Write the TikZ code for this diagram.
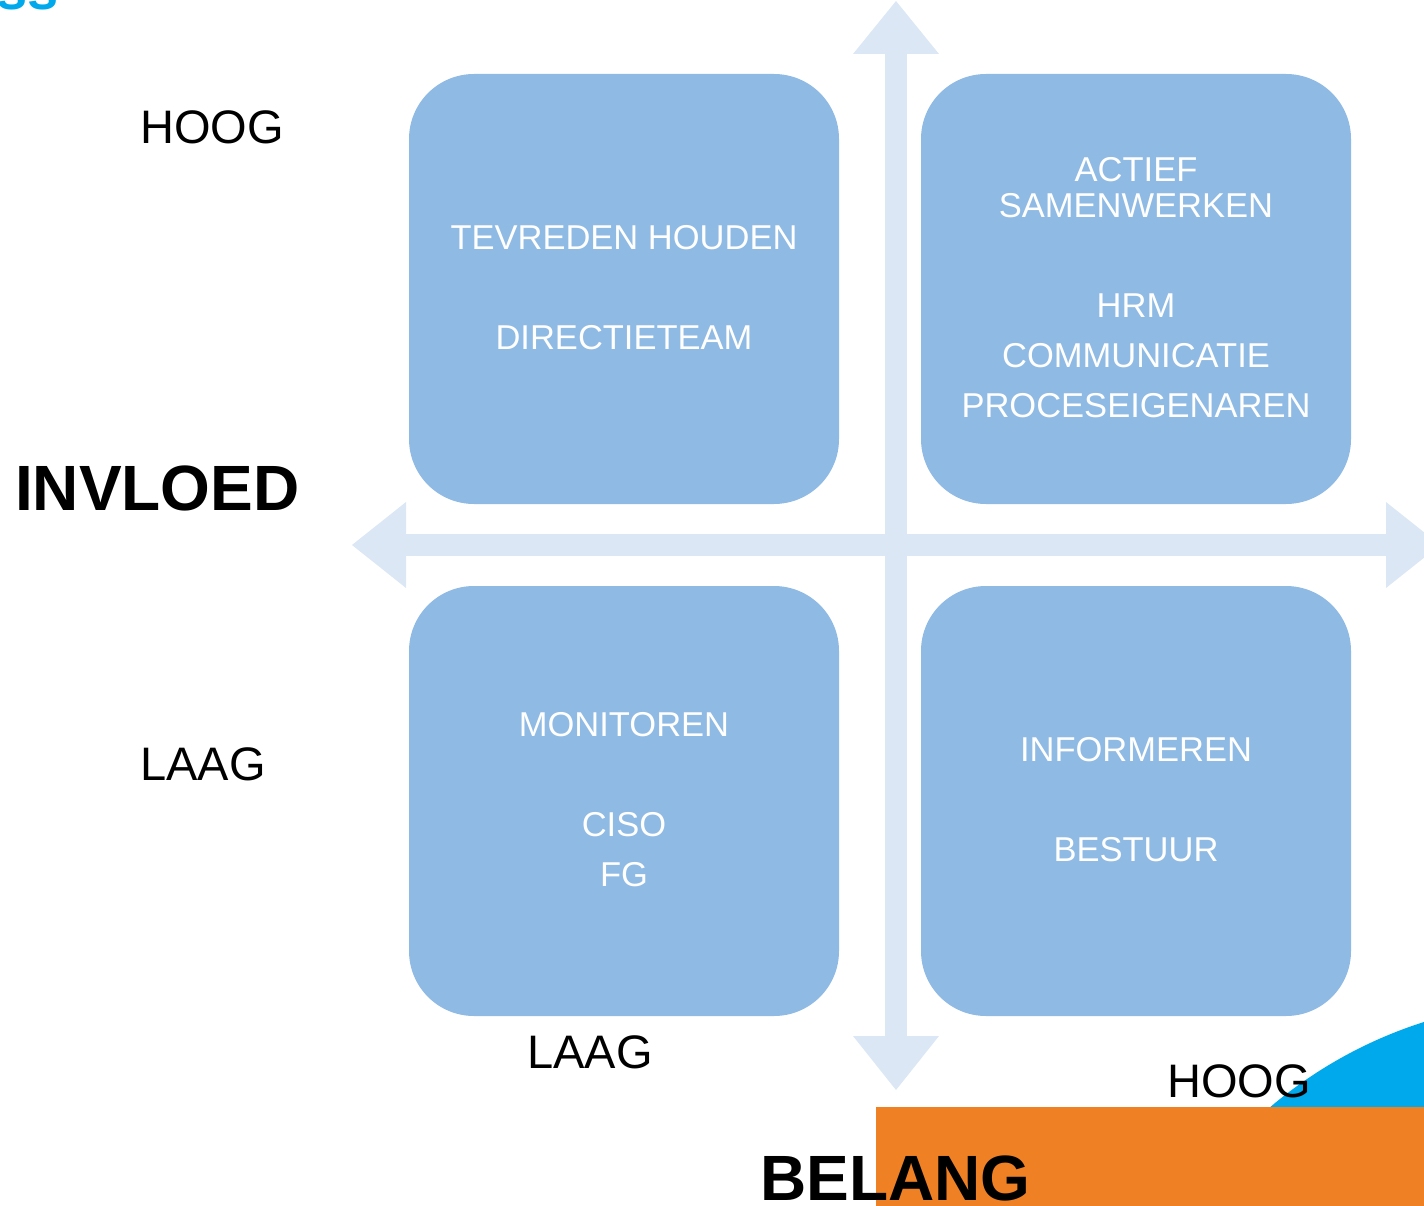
\documentclass[tikz,border=0pt]{standalone}
\usepackage{fontspec}
\setmainfont{Liberation Sans}
\definecolor{boxblue}{RGB}{143,186,228}
\definecolor{axisblue}{RGB}{219,231,244}
\definecolor{accentorange}{RGB}{240,128,36}
\definecolor{accentcyan}{RGB}{0,169,236}
\tikzset{
  quadrant/.style={fill=boxblue, draw=none, rounded corners=65pt,
    minimum width=430pt, minimum height=430pt, inner sep=0pt},
  qtext/.style={text=white, inner sep=0pt, font=\fontsize{34.5}{40}\selectfont},
  axislabel/.style={text=black, inner sep=0pt, font=\fontsize{47}{54}\selectfont},
  axistitle/.style={text=black, inner sep=0pt, font=\fontsize{64}{72}\selectfont\bfseries},
  axisarrow/.style={fill=axisblue, draw=none}
}
\begin{document}
\begin{tikzpicture}[x=1pt, y=-1pt]
\useasboundingbox (0,0) rectangle (1424,1206);
\clip (0,0) rectangle (1424,1206);

% decorative corner shapes
\fill[accentcyan] (1560,1450) circle (449);
\fill[accentorange] (876,1107) rectangle (1424,1206);
\node[anchor=base west, inner sep=0pt, text=accentcyan,
  font=\fontsize{56}{60}\selectfont\bfseries] (corner) at (-4,10) {ss};

% axes with arrow heads
\path[axisarrow] (885,54) rectangle (907,1036);
\path[axisarrow] (853,54) -- (896,1) -- (939,54) -- cycle;
\path[axisarrow] (853,1036) -- (896,1090) -- (939,1036) -- cycle;
\path[axisarrow] (406,534) rectangle (1386,556);
\path[axisarrow] (406,502) -- (352,545) -- (406,588) -- cycle;
\path[axisarrow] (1386,502) -- (1440,545) -- (1386,588) -- cycle;

% quadrants
\node[quadrant] (tl) at (624,289) {};
\node[quadrant] (tr) at (1136,289) {};
\node[quadrant] (bl) at (624,801) {};
\node[quadrant] (br) at (1136,801) {};

\node[qtext] (tl1) at (624,238) {TEVREDEN HOUDEN};
\node[qtext] (tl2) at (624,338) {DIRECTIETEAM};

\node[qtext] (tr1) at (1136,170) {ACTIEF};
\node[qtext] (tr2) at (1136,206) {SAMENWERKEN};
\node[qtext] (tr3) at (1136,306) {HRM};
\node[qtext] (tr4) at (1136,356) {COMMUNICATIE};
\node[qtext] (tr5) at (1136,406) {PROCESEIGENAREN};

\node[qtext] (bl1) at (624,725) {MONITOREN};
\node[qtext] (bl2) at (624,825) {CISO};
\node[qtext] (bl3) at (624,875) {FG};

\node[qtext] (br1) at (1136,750) {INFORMEREN};
\node[qtext] (br2) at (1136,850) {BESTUUR};

% axis labels
\node[axislabel, anchor=west] (yhigh) at (140,127) {HOOG};
\node[axislabel, anchor=west] (ylow) at (140,764) {LAAG};
\node[axistitle, anchor=west] (ytitle) at (15,488) {INVLOED};
\node[axislabel, anchor=west] (xlow) at (527,1052) {LAAG};
\node[axislabel, anchor=west] (xhigh) at (1167,1081) {HOOG};
\node[axistitle, anchor=west] (xtitle) at (760,1178) {BELANG};
\end{tikzpicture}
\end{document}
